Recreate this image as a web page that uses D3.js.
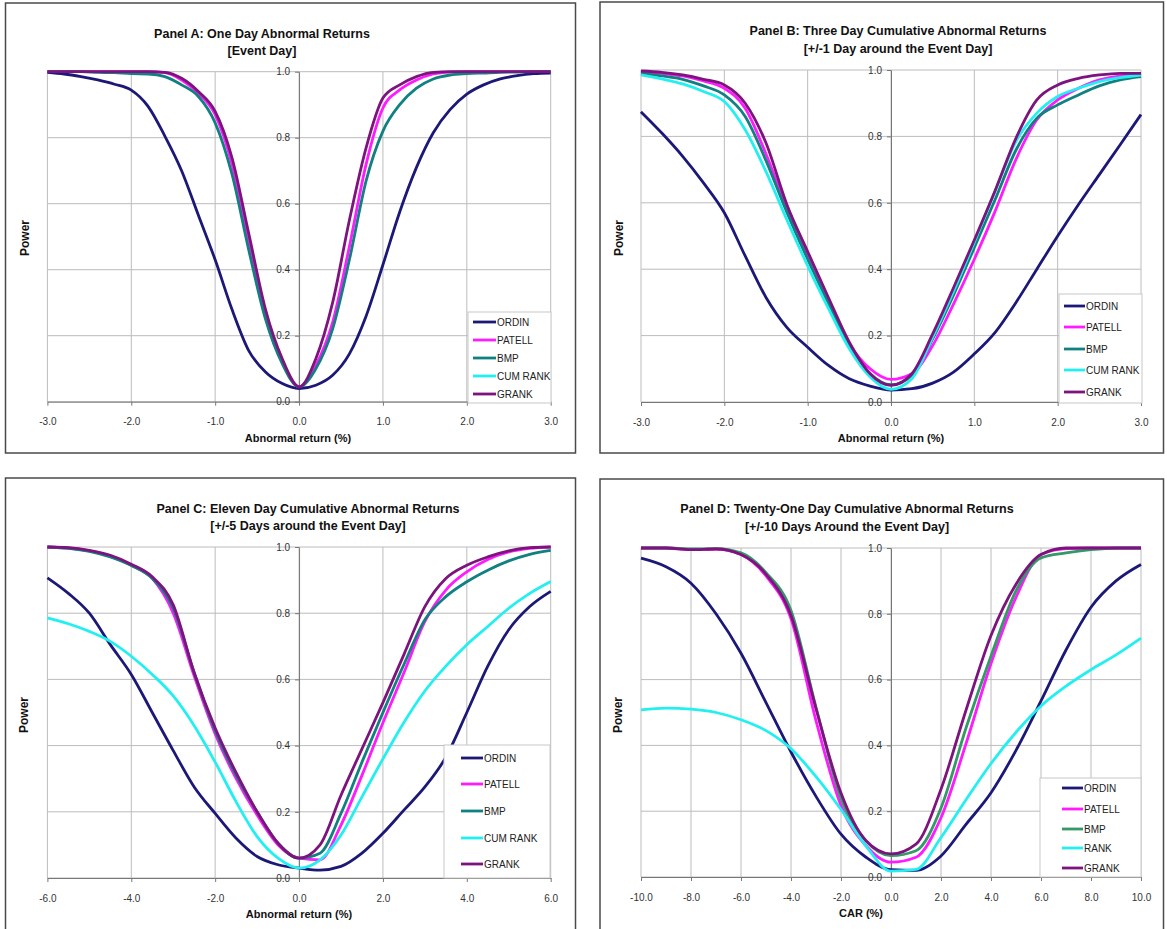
<!DOCTYPE html>
<html>
<head>
<meta charset="utf-8">
<script src="https://cdn.jsdelivr.net/npm/d3@7"></script>
<style>
  body { margin: 0; background: #fff; }
  svg text { font-family: "Liberation Sans", Arial, sans-serif; }
</style>
</head>
<body>
<svg id="chart" width="1167" height="929"></svg>
<script>
// ---- data ----
var namesABC = ["ORDIN", "PATELL", "BMP", "CUM RANK", "GRANK"];
var namesD = ["ORDIN", "PATELL", "BMP", "RANK", "GRANK"];
var yTicks = [0, 0.2, 0.4, 0.6, 0.8, 1.0];

// Panel A: one day abnormal returns
var xTicksA = [-3, -2, -1, 0, 1, 2, 3];
var xA = [-3.0, -2.8, -2.6, -2.4, -2.2, -2.0, -1.8, -1.6, -1.4, -1.2, -1.0, -0.8, -0.6, -0.4, -0.2, 0.0,
  0.2, 0.4, 0.6, 0.8, 1.0, 1.2, 1.4, 1.6, 1.8, 2.0, 2.2, 2.4, 2.6, 2.8, 3.0];
var ordinA = [0.998, 0.993, 0.985, 0.975, 0.962, 0.944, 0.895, 0.805, 0.70, 0.565, 0.43, 0.28, 0.155, 0.09, 0.055, 0.04,
  0.05, 0.08, 0.145, 0.26, 0.415, 0.575, 0.71, 0.815, 0.885, 0.932, 0.96, 0.978, 0.988, 0.994, 0.996];
var patellA = [1, 1, 1, 1, 1, 1, 1, 0.997, 0.975, 0.935, 0.87, 0.72, 0.48, 0.26, 0.12, 0.045,
  0.11, 0.24, 0.47, 0.72, 0.89, 0.945, 0.975, 0.993, 0.999, 1, 1, 1, 1, 1, 1];
var bmpA = [1, 1, 1, 0.998, 0.997, 0.994, 0.993, 0.985, 0.96, 0.925, 0.845, 0.69, 0.46, 0.25, 0.115, 0.045,
  0.10, 0.22, 0.43, 0.67, 0.82, 0.90, 0.95, 0.978, 0.99, 0.994, 0.996, 0.998, 0.999, 1, 1];
var cumRankA = []; // listed in the legend, no visible line in this panel
var grankA = [1, 1, 1, 1, 1, 1, 1, 0.998, 0.98, 0.94, 0.88, 0.74, 0.51, 0.28, 0.13, 0.045,
  0.13, 0.30, 0.55, 0.77, 0.92, 0.96, 0.985, 0.998, 1, 1, 1, 1, 1, 1, 1];

// Panel B: three day CAR
var xTicksB = [-3, -2, -1, 0, 1, 2, 3];
var xB = [-3, -2.75, -2.5, -2.25, -2, -1.75, -1.5, -1.25, -1, -0.75, -0.5, -0.25, 0,
  0.25, 0.5, 0.75, 1, 1.25, 1.5, 1.75, 2, 2.25, 2.5, 2.75, 3];
var ordinB = [0.874, 0.81, 0.74, 0.66, 0.57, 0.44, 0.315, 0.225, 0.165, 0.11, 0.07, 0.048, 0.036,
  0.04, 0.057, 0.09, 0.145, 0.21, 0.30, 0.40, 0.50, 0.595, 0.685, 0.775, 0.866];
var patellB = [0.995, 0.99, 0.982, 0.967, 0.945, 0.885, 0.747, 0.583, 0.44, 0.30, 0.175, 0.10, 0.068,
  0.085, 0.17, 0.295, 0.43, 0.575, 0.731, 0.85, 0.91, 0.945, 0.97, 0.982, 0.99];
var bmpB = [0.99, 0.982, 0.972, 0.952, 0.925, 0.86, 0.727, 0.572, 0.43, 0.296, 0.17, 0.085, 0.052,
  0.08, 0.19, 0.322, 0.465, 0.61, 0.759, 0.855, 0.895, 0.925, 0.952, 0.97, 0.98];
var cumRankB = [0.985, 0.973, 0.958, 0.935, 0.905, 0.82, 0.694, 0.549, 0.41, 0.281, 0.16, 0.075, 0.038,
  0.07, 0.195, 0.333, 0.481, 0.635, 0.785, 0.87, 0.92, 0.945, 0.965, 0.977, 0.985];
var grankB = [0.997, 0.993, 0.985, 0.972, 0.955, 0.90, 0.78, 0.595, 0.453, 0.314, 0.18, 0.085, 0.05,
  0.085, 0.205, 0.344, 0.488, 0.637, 0.795, 0.91, 0.955, 0.975, 0.985, 0.99, 0.99];

// Panel C: eleven day CAR
var xTicksC = [-6, -4, -2, 0, 2, 4, 6];
var xC = [-6, -5.5, -5, -4.5, -4, -3.5, -3, -2.5, -2, -1.5, -1, -0.5, 0,
  0.5, 1, 1.5, 2, 2.5, 3, 3.5, 4, 4.5, 5, 5.5, 6];
var ordinC = [0.907, 0.86, 0.80, 0.705, 0.615, 0.50, 0.385, 0.275, 0.195, 0.12, 0.065, 0.04, 0.03,
  0.024, 0.035, 0.075, 0.135, 0.205, 0.275, 0.365, 0.50, 0.64, 0.75, 0.82, 0.866];
var patellC = [1.0, 0.997, 0.988, 0.972, 0.945, 0.905, 0.80, 0.61, 0.435, 0.30, 0.19, 0.10, 0.06,
  0.055, 0.16, 0.31, 0.469, 0.62, 0.775, 0.87, 0.925, 0.962, 0.985, 0.996, 1.0];
var bmpC = [1.0, 0.996, 0.987, 0.97, 0.944, 0.905, 0.815, 0.62, 0.445, 0.31, 0.2, 0.105, 0.06,
  0.075, 0.195, 0.35, 0.5, 0.645, 0.78, 0.85, 0.895, 0.93, 0.958, 0.978, 0.99];
var cumRankC = [0.786, 0.768, 0.745, 0.715, 0.67, 0.615, 0.55, 0.46, 0.35, 0.23, 0.125, 0.06, 0.03,
  0.055, 0.13, 0.245, 0.36, 0.47, 0.565, 0.64, 0.705, 0.76, 0.815, 0.86, 0.896];
var grankC = [1.0, 0.998, 0.99, 0.975, 0.948, 0.91, 0.825, 0.62, 0.453, 0.318, 0.2, 0.105, 0.06,
  0.1, 0.25, 0.39, 0.53, 0.675, 0.82, 0.905, 0.945, 0.97, 0.988, 0.998, 1.0];

// Panel D: twenty-one day CAR
var xTicksD = [-10, -8, -6, -4, -2, 0, 2, 4, 6, 8, 10];
var xD = [-10, -9, -8, -7, -6, -5, -4, -3, -2, -1, 0, 1, 2, 3, 4, 5, 6, 7, 8, 9, 10];
var ordinD = [0.969, 0.943, 0.893, 0.80, 0.68, 0.53, 0.38, 0.245, 0.13, 0.06, 0.022,
  0.02, 0.064, 0.16, 0.256, 0.385, 0.535, 0.69, 0.82, 0.90, 0.95];
var patellD = [1, 1, 0.995, 0.997, 0.98, 0.915, 0.785, 0.475, 0.217, 0.095, 0.045,
  0.06, 0.18, 0.405, 0.649, 0.85, 0.98, 0.998, 1, 1, 1];
var bmpD = [1, 1, 0.997, 0.998, 0.985, 0.925, 0.81, 0.516, 0.239, 0.11, 0.065,
  0.08, 0.21, 0.453, 0.672, 0.87, 0.97, 0.985, 0.995, 1, 1];
var rankD = [0.508, 0.513, 0.51, 0.50, 0.478, 0.445, 0.39, 0.305, 0.205, 0.094, 0.018,
  0.023, 0.12, 0.235, 0.345, 0.44, 0.52, 0.58, 0.63, 0.675, 0.726];
var grankD = [1, 1, 0.995, 0.997, 0.98, 0.92, 0.795, 0.512, 0.255, 0.11, 0.07,
  0.1, 0.267, 0.507, 0.734, 0.89, 0.98, 1, 1, 1, 1];

var colors = ["#1c1878", "#ff1aff", "#108080", "#22f0f0", "#7d147d"];
var colorsD = ["#1c1878", "#ff1aff", "#339966", "#22f0f0", "#7d147d"];

// ---- layout ----
var panels = [
  { frame: [5.5, 3, 570, 450], plot: [47.4, 71.7, 550.7, 401.7], xDomain: [-3, 3],
    xTicks: xTicksA, xs: xA, series: [ordinA, patellA, bmpA, cumRankA, grankA],
    names: namesABC, colors: colors,
    title: ["Panel A: One Day Abnormal Returns", "[Event Day]"], titleX: 262, titleY: [34, 51],
    xLabel: "Abnormal return (%)", xLabelX: 298, xLabelY: 438, powerX: 25, powerY: 238,
    legend: { x: 468, y: 312, w: 83, h: 91, rows: [322, 340, 358, 376, 394], lx0: 473, lx1: 496, tx: 497 } },
  { frame: [600, 2, 563.5, 451], plot: [641, 70, 1141, 402], xDomain: [-3, 3],
    xTicks: xTicksB, xs: xB, series: [ordinB, patellB, bmpB, cumRankB, grankB],
    names: namesABC, colors: colors,
    title: ["Panel B: Three Day Cumulative Abnormal Returns", "[+/-1 Day around the Event Day]"], titleX: 898, titleY: [31, 49],
    xLabel: "Abnormal return (%)", xLabelX: 891, xLabelY: 438, powerX: 619, powerY: 238,
    legend: { x: 1059, y: 294, w: 83, h: 109, rows: [306, 327, 349, 370, 392], lx0: 1064, lx1: 1085, tx: 1086 } },
  { frame: [5.5, 478, 570, 480], plot: [47.4, 547, 550.7, 878], xDomain: [-6, 6],
    xTicks: xTicksC, xs: xC, series: [ordinC, patellC, bmpC, cumRankC, grankC],
    names: namesABC, colors: colors,
    title: ["Panel C: Eleven Day Cumulative Abnormal Returns", "[+/-5 Days around the Event Day]"], titleX: 308, titleY: [508.5, 526],
    xLabel: "Abnormal return (%)", xLabelX: 299, xLabelY: 914, powerX: 24, powerY: 715,
    legend: { x: 444, y: 745, w: 106, h: 133, rows: [758, 784, 811, 838, 864], lx0: 461, lx1: 483, tx: 484 } },
  { frame: [600, 479, 563.5, 480], plot: [641, 548, 1141, 877], xDomain: [-10, 10],
    xTicks: xTicksD, xs: xD, series: [ordinD, patellD, bmpD, rankD, grankD],
    names: namesD, colors: colorsD,
    title: ["Panel D: Twenty-One Day Cumulative Abnormal Returns", "[+/-10 Days Around the Event Day]"], titleX: 847, titleY: [509, 527],
    xLabel: "CAR (%)", xLabelX: 861, xLabelY: 913, powerX: 618, powerY: 715,
    legend: { x: 1040, y: 778, w: 101, h: 99, rows: [788, 809, 829, 848, 868], lx0: 1062, lx1: 1083, tx: 1084 } }
];

var svg = d3.select("#chart");
var fmt = function (d) { return d.toFixed(1); };

panels.forEach(function (p) {
  var g = svg.append("g");

  g.append("rect")
    .attr("x", p.frame[0]).attr("y", p.frame[1])
    .attr("width", p.frame[2]).attr("height", p.frame[3])
    .attr("fill", "#fff").attr("stroke", "#4a4a4a").attr("stroke-width", 1.5);

  var x = d3.scaleLinear().domain(p.xDomain).range([p.plot[0], p.plot[2]]);
  var y = d3.scaleLinear().domain([0, 1]).range([p.plot[3], p.plot[1]]);

  // gridlines
  g.selectAll(".vgrid").data(p.xTicks).join("line")
    .attr("class", "vgrid")
    .attr("x1", function (d) { return x(d); }).attr("x2", function (d) { return x(d); })
    .attr("y1", y(0)).attr("y2", y(1))
    .attr("stroke", "#bcbcbc").attr("stroke-width", 1);
  g.selectAll(".hgrid").data(yTicks).join("line")
    .attr("class", "hgrid")
    .attr("x1", x(p.xDomain[0])).attr("x2", x(p.xDomain[1]))
    .attr("y1", function (d) { return y(d); }).attr("y2", function (d) { return y(d); })
    .attr("stroke", "#bcbcbc").attr("stroke-width", 1);

  // x axis along the bottom
  var xa = g.append("g")
    .attr("transform", "translate(0," + y(0) + ")")
    .call(d3.axisBottom(x).tickValues(p.xTicks).tickFormat(fmt).tickSize(4).tickSizeOuter(0));
  xa.selectAll("text").attr("y", 20).attr("dy", null).attr("dominant-baseline", "central");

  // y axis crosses at zero
  var ya = g.append("g")
    .attr("transform", "translate(" + x(0) + ",0)")
    .call(d3.axisLeft(y).tickValues(yTicks).tickFormat(fmt).tickSize(4).tickPadding(5).tickSizeOuter(0));

  [xa, ya].forEach(function (a) {
    a.select(".domain").attr("stroke", "#777");
    a.selectAll(".tick line").attr("stroke", "#777");
    a.selectAll("text").attr("fill", "#333").style("font-size", "10px");
  });

  // series
  var line = d3.line()
    .x(function (d, i) { return x(p.xs[i]); })
    .y(function (d) { return y(d); })
    .curve(d3.curveMonotoneX);
  p.series.forEach(function (vals, i) {
    if (!vals.length) return;
    g.append("path")
      .attr("d", line(vals))
      .attr("fill", "none")
      .attr("stroke", p.colors[i])
      .attr("stroke-width", 2.8)
      .attr("stroke-linejoin", "round");
  });

  // titles
  g.selectAll(".title").data(p.title).join("text")
    .attr("class", "title")
    .attr("x", p.titleX)
    .attr("y", function (d, i) { return p.titleY[i]; })
    .attr("text-anchor", "middle").attr("dominant-baseline", "central")
    .style("font-size", "12.5px").style("font-weight", "bold").attr("fill", "#111")
    .text(function (d) { return d; });

  g.append("text")
    .attr("x", p.xLabelX).attr("y", p.xLabelY)
    .attr("text-anchor", "middle").attr("dominant-baseline", "central")
    .style("font-size", "11px").style("font-weight", "bold").attr("fill", "#111")
    .text(p.xLabel);

  g.append("text")
    .attr("transform", "translate(" + p.powerX + "," + p.powerY + ") rotate(-90)")
    .attr("text-anchor", "middle").attr("dominant-baseline", "central")
    .style("font-size", "12px").style("font-weight", "bold").attr("fill", "#111")
    .text("Power");

  // legend
  var L = p.legend;
  g.append("rect")
    .attr("x", L.x).attr("y", L.y).attr("width", L.w).attr("height", L.h)
    .attr("fill", "#fff").attr("stroke", "#c8c8c8");
  var items = g.selectAll(".leg").data(p.names).join("g").attr("class", "leg");
  items.append("line")
    .attr("x1", L.lx0).attr("x2", L.lx1)
    .attr("y1", function (d, i) { return L.rows[i]; }).attr("y2", function (d, i) { return L.rows[i]; })
    .attr("stroke", function (d, i) { return p.colors[i]; }).attr("stroke-width", 2.8);
  items.append("text")
    .attr("x", L.tx).attr("y", function (d, i) { return L.rows[i]; })
    .attr("dominant-baseline", "central")
    .style("font-size", "10px").attr("fill", "#222")
    .text(function (d) { return d; });
});
</script>
</body>
</html>
